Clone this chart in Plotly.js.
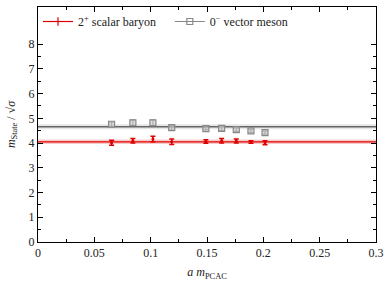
<!DOCTYPE html>
<html><head><meta charset="utf-8">
<script src="https://cdn.plot.ly/plotly-3.0.1.min.js"></script>
<style>html,body{margin:0;padding:0;background:#fff}#chart{width:390px;height:281px}</style>
</head><body><div id="chart"></div>
<script>
// Data
var xPCAC = [0.0653, 0.0842, 0.102, 0.1187, 0.149, 0.163, 0.176, 0.189, 0.2015];
var baryon = [4.01, 4.09, 4.16, 4.05, 4.06, 4.09, 4.08, 4.04, 4.01];
var baryonErr = [0.10, 0.09, 0.11, 0.11, 0.07, 0.09, 0.08, 0.05, 0.08];
var meson = [4.76, 4.82, 4.82, 4.62, 4.58, 4.59, 4.54, 4.49, 4.42];
var mesonErr = [0.08, 0.11, 0.11, 0.10, 0.05, 0.09, 0.07, 0.06, 0.06];
var fitX = [0, 0.3];
var baryonFit = 4.05, baryonFitErr = 0.09;
var mesonFit = 4.66, mesonFitErr = 0.10;
var yTicks = [0, 1, 2, 3, 4, 5, 6, 7, 8];
var yMinor = [0.5, 1.5, 2.5, 3.5, 4.5, 5.5, 6.5, 7.5];
var names = ["2<sup>+</sup> scalar baryon", "0<sup>−</sup> vector meson"];

var red = "#dd0000", gray = "#888888";
function band(c, e, color) {
  return {x: [fitX[0], fitX[1], fitX[1], fitX[0]], y: [c - e, c - e, c + e, c + e],
    fill: "toself", fillcolor: color, line: {width: 0}, mode: "lines",
    hoverinfo: "skip", showlegend: false};
}
function fitLine(c, color) {
  return {x: fitX, y: [c, c], mode: "lines", line: {color: color, width: 1.3}, showlegend: false};
}
var traces = [
  band(mesonFit, mesonFitErr, "rgba(200,200,200,0.45)"),
  band(baryonFit, baryonFitErr, "rgba(240,140,140,0.45)"),
  fitLine(mesonFit, "#666666"),
  fitLine(baryonFit, red),
  {x: xPCAC, y: meson, mode: "markers", showlegend: false,
   marker: {symbol: "square", size: 6, color: "rgba(200,200,200,0.6)", line: {width: 1.2, color: gray}},
   error_y: {type: "data", array: mesonErr, color: gray, thickness: 1.2, width: 2.5}},
  {x: xPCAC, y: baryon, mode: "markers", showlegend: false,
   marker: {symbol: "circle", size: 3, color: red},
   error_y: {type: "data", array: baryonErr, color: red, thickness: 1.5, width: 2.5}},
  {x: [null], y: [null], name: names[0], mode: "lines+markers", legend: "legend",
   line: {color: red, width: 1.2}, marker: {symbol: "line-ns-open", size: 6, color: red, line: {width: 1.2, color: red}}},
  {x: [null], y: [null], name: names[1], mode: "lines+markers", legend: "legend2",
   line: {color: gray, width: 1.2}, marker: {symbol: "square-open", size: 6, color: gray, line: {width: 1.2}}}
];
var font = {family: "Liberation Serif, DejaVu Serif, serif", size: 12, color: "#222"};
var legFont = {family: font.family, size: 12, color: "#222"};
var layout = {
  width: 390, height: 281,
  margin: {l: 38, r: 14, t: 7, b: 39},
  paper_bgcolor: "#fff", plot_bgcolor: "#fff",
  font: font,
  showlegend: true,
  legend: {x: 0.0, y: 1.0, xanchor: "left", yanchor: "top",
    bgcolor: "rgba(0,0,0,0)", font: legFont, itemwidth: 30},
  legend2: {x: 0.39, y: 1.0, xanchor: "left", yanchor: "top",
    bgcolor: "rgba(0,0,0,0)", font: legFont, itemwidth: 30},
  xaxis: {range: [0, 0.3], dtick: 0.05, tick0: 0, ticks: "inside", ticklen: 5,
    tickcolor: "#000", mirror: "ticks", showline: true, linecolor: "#000", linewidth: 1,
    showgrid: false, zeroline: false,
    minor: {dtick: 0.025, ticks: "inside", ticklen: 3, tickcolor: "#000"},
    title: {text: "<i>a m</i><sub>PCAC</sub>", font: {family: font.family, size: 12}, standoff: 9}},
  yaxis: {range: [0, 9.5], tickvals: yTicks, ticks: "inside", ticklen: 5,
    tickcolor: "#000", mirror: "ticks", showline: true, linecolor: "#000", linewidth: 1,
    showgrid: false, zeroline: false,
    minor: {tickvals: yMinor, ticks: "inside", ticklen: 3, tickcolor: "#000"},
    title: {text: "<i>m</i><sub>State</sub> / √<i>σ</i>", font: {family: font.family, size: 12}, standoff: 10}}
};
Plotly.newPlot("chart", traces, layout, {displayModeBar: false, staticPlot: true});
</script></body></html>
